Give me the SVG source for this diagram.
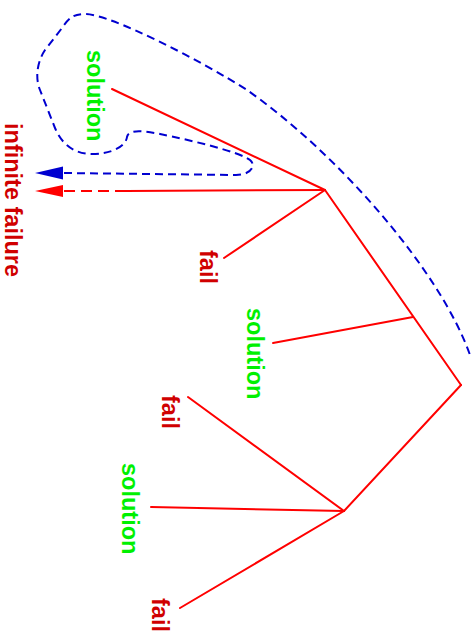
<svg xmlns="http://www.w3.org/2000/svg" width="475" height="634" viewBox="0 0 475 634">
<style>
.t{stroke:#ff0000;stroke-width:2;fill:none;stroke-linecap:round}
.bl{stroke:#0000d0;stroke-width:2;fill:none;stroke-dasharray:8,5}
.rd{stroke:#ff0000;stroke-width:2;fill:none;stroke-dasharray:11,6}
text{font-family:"Liberation Sans",Arial,Helvetica,sans-serif;font-weight:bold;font-size:23.5px}
.sol{fill:#00f000}
.fail{fill:#d00000}
</style>
<rect width="475" height="634" fill="#ffffff"/>
<g id="connectors">
<path class="t" d="M325,190 L112,89"/>
<path class="t" d="M325,190 L126,191"/>
<path class="rd" d="M126,191 L63,191"/>
<polygon points="35,191 63,185 63,197" fill="#ff0000"/>
<path class="t" d="M325,190 L224,258"/>
<path class="t" d="M325,190 L461,385"/>
<path class="t" d="M413,317 L273,343"/>
<path class="t" d="M461,385 L344,511"/>
<path class="t" d="M344,511 L188,397"/>
<path class="t" d="M344,511 L151,507"/>
<path class="t" d="M344,511 L180,608"/>
<path class="bl" d="M64,173 L236,175 C250,175 257,166 250,160 C240,152 190,140 160,134 C140,130 128,130 127,137 C126,146 112,154 92,154 C75,154 62,145 55,128 L40,90 C35,78 37,62 45,50 L62,28 C70,16 75,14 85,14 C110,14 200,60 247,90 C337,153 440,270 470,355"/>
<polygon points="35,173 63,166.5 63,179.5" fill="#0000d0"/>
</g>
<g id="node-infinite-failure"><text class="fail" transform="translate(5,123) rotate(90)">infinite failure</text></g>
<g id="node-solution-1"><text class="sol" transform="translate(87,50) rotate(90)">solution</text></g>
<g id="node-fail-1"><text class="fail" transform="translate(200,250) rotate(90)">fail</text></g>
<g id="node-solution-2"><text class="sol" transform="translate(247,308) rotate(90)">solution</text></g>
<g id="node-fail-2"><text class="fail" transform="translate(162,395) rotate(90)">fail</text></g>
<g id="node-solution-3"><text class="sol" transform="translate(122,463) rotate(90)">solution</text></g>
<g id="node-fail-3"><text class="fail" transform="translate(152,598) rotate(90)">fail</text></g>
</svg>
